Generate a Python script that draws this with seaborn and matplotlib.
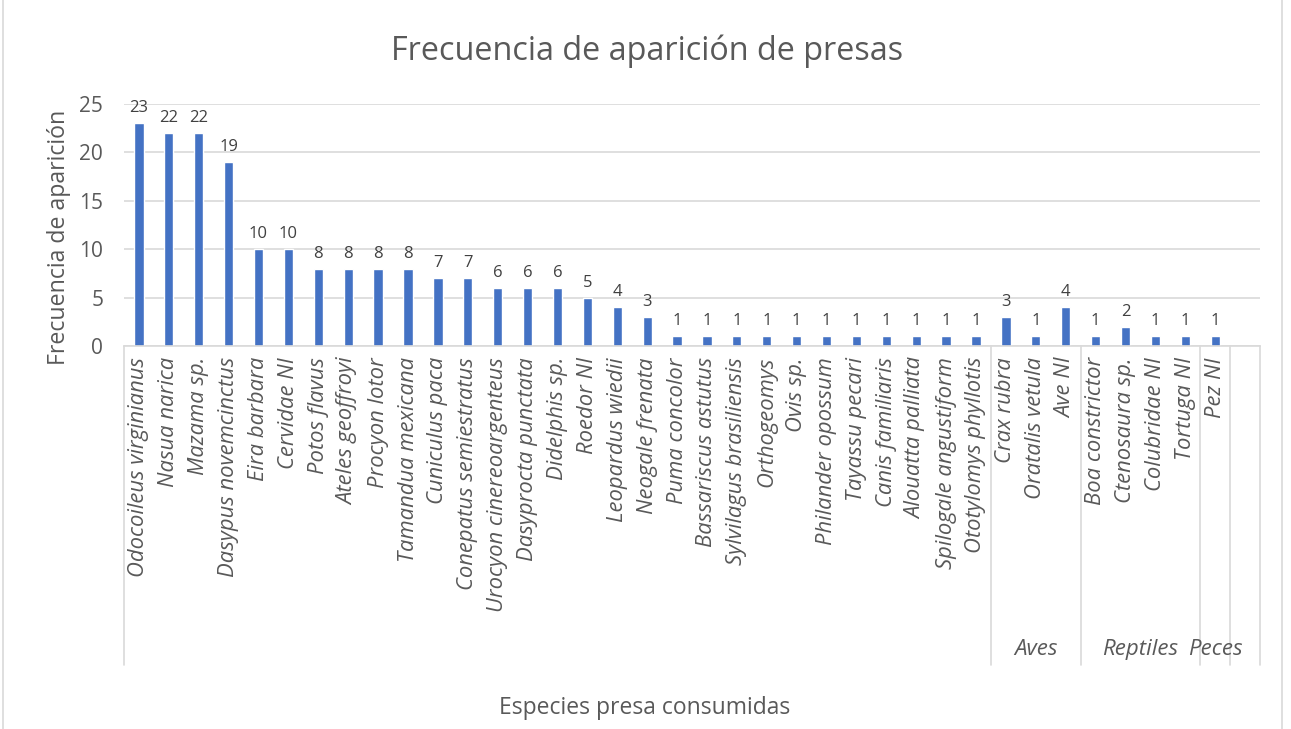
import numpy as np
import pandas as pd
import seaborn as sns
import matplotlib
matplotlib.use("Agg")
import matplotlib.pyplot as plt
from matplotlib.lines import Line2D

# ================================ data ================================
mamiferos = ['Odocoileus virginianus', 'Nasua narica', 'Mazama sp.', 'Dasypus novemcinctus',
             'Eira barbara', 'Cervidae NI', 'Potos flavus', 'Ateles geoffroyi', 'Procyon lotor',
             'Tamandua mexicana', 'Cuniculus paca', 'Conepatus semiestratus',
             'Urocyon cinereoargenteus', 'Dasyprocta punctata', 'Didelphis sp.', 'Roedor NI',
             'Leopardus wiedii', 'Neogale frenata', 'Puma concolor', 'Bassariscus astutus',
             'Sylvilagus brasiliensis', 'Orthogeomys', 'Ovis sp.', 'Philander opossum',
             'Tayassu pecari', 'Canis familiaris', 'Alouatta palliata', 'Spilogale angustiform',
             'Ototylomys phyllotis']
mamiferos_freq = [23, 22, 22, 19, 10, 10, 8, 8, 8, 8, 7, 7, 6, 6, 6, 5, 4, 3,
                  1, 1, 1, 1, 1, 1, 1, 1, 1, 1, 1]
aves = ['Crax rubra', 'Oratalis vetula', 'Ave NI']
aves_freq = [3, 1, 4]
reptiles = ['Boa constrictor', 'Ctenosaura sp.', 'Colubridae NI', 'Tortuga NI']
reptiles_freq = [1, 2, 1, 1]
peces = ['Pez NI']
peces_freq = [1]

grupos = ['', 'Aves', 'Reptiles', 'Peces', '']
grupo_especies = [mamiferos, aves, reptiles, peces, []]

df = pd.DataFrame({
    'especie': mamiferos + aves + reptiles + peces,
    'frecuencia': mamiferos_freq + aves_freq + reptiles_freq + peces_freq,
})
orden = list(df['especie']) + ['(vacío)']   # Excel leaves one empty slot at the end

# ================================ plotting ================================
sns.set_theme(style='white')
plt.rcParams['font.family'] = ['Open Sans', 'DejaVu Sans']
gris_txt = '#595959'
gris_lin = '#D9D9D9'

fig = plt.figure(figsize=(12.91, 7.29), dpi=100)
ax = fig.add_axes([124 / 1291, 1 - 346 / 729, (1260 - 124) / 1291, (346 - 104) / 729])

sns.barplot(data=df, x='especie', y='frecuencia', order=orden, color='#4472C4',
            width=0.31, saturation=1, ax=ax)

ax.set_ylim(0, 25)
ax.set_xlim(-0.5, len(orden) - 0.5)
ax.set_yticks(range(0, 26, 5))
ax.yaxis.grid(True, color=gris_lin, linewidth=1.2)
ax.set_axisbelow(True)
for s in ['left', 'right', 'top']:
    ax.spines[s].set_visible(False)
ax.spines['bottom'].set_color(gris_lin)
ax.spines['bottom'].set_linewidth(1.2)

ax.tick_params(axis='y', labelsize=15, colors=gris_txt, length=0, pad=15)
ax.tick_params(axis='x', length=0, pad=8)
ax.set_xticks(range(len(orden)))
ax.set_xticklabels(list(df['especie']) + [''], rotation=90, style='italic',
                   fontsize=15.8, color=gris_txt, va='top', ha='center')

ax.bar_label(ax.containers[0], labels=[str(v) for v in df['frecuencia']],
             padding=5, fontsize=12, color='#404040')

# multi-level category separators and group names
pos = -0.5
cortes = [pos]
for esp in grupo_especies[:-1]:
    pos += len(esp)
    cortes.append(pos)
cortes.append(len(orden) - 0.5)
trans = ax.get_xaxis_transform()
for c in cortes:
    ax.add_line(Line2D([c, c], [0, -1.318], transform=trans, color=gris_lin,
                       linewidth=1.2, clip_on=False))
for i, g in enumerate(grupos):
    if g:
        centro = (cortes[i] + cortes[i + 1]) / 2
        ax.text(centro, -1.256, g, transform=trans, ha='center', va='center',
                fontsize=16, style='italic', color=gris_txt)

ax.set_xlabel('Especies presa consumidas', fontsize=16.5, color=gris_txt)
ax.xaxis.set_label_coords(0.458, -1.445)
ax.set_ylabel('Frecuencia de aparición', fontsize=16.7, color=gris_txt)
ax.yaxis.set_label_coords(-0.047, 0.45)

fig.text(647 / 1291, 1 - 51 / 729, 'Frecuencia de aparición de presas', ha='center',
         va='center', fontsize=23.3, color=gris_txt)

# chart border
fig.add_artist(Line2D([3 / 1291, 3 / 1291], [0, 1], color=gris_lin, linewidth=1.2))
fig.add_artist(Line2D([1282 / 1291, 1282 / 1291], [0, 1], color=gris_lin, linewidth=1.2))

fig.savefig('out.png', dpi=100, facecolor='white')
